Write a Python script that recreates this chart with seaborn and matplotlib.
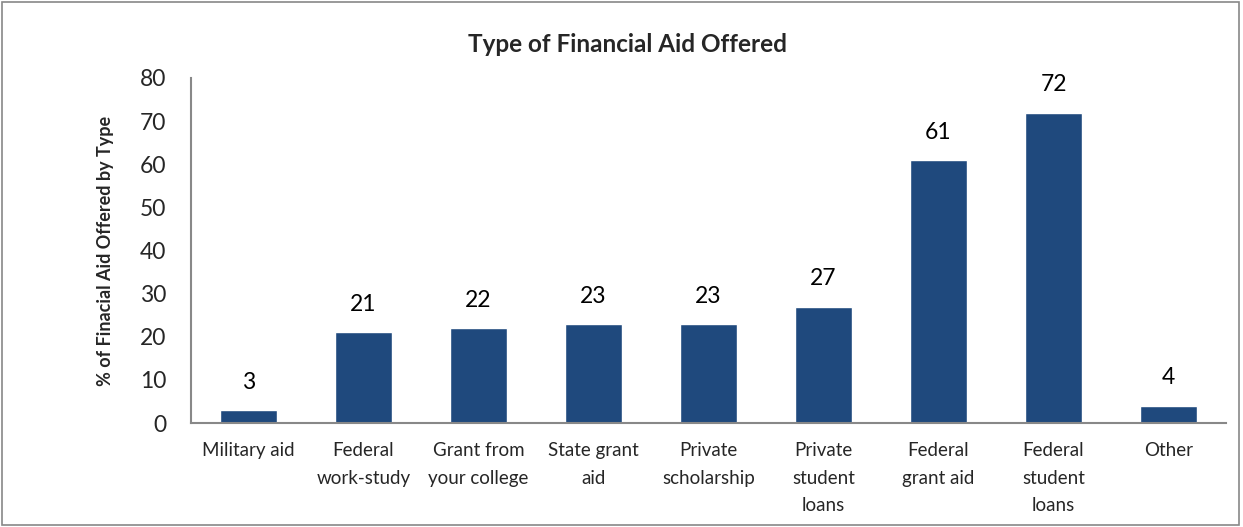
import matplotlib
matplotlib.use("Agg")
import matplotlib.pyplot as plt
import seaborn as sns
import pandas as pd
from matplotlib.patches import Rectangle

# data
categories = ["Military aid", "Federal\nwork-study", "Grant from\nyour college",
              "State grant\naid", "Private\nscholarship", "Private\nstudent\nloans",
              "Federal\ngrant aid", "Federal\nstudent\nloans", "Other"]
values = [3, 21, 22, 23, 23, 27, 61, 72, 4]
y_ticks = [0, 10, 20, 30, 40, 50, 60, 70, 80]

df = pd.DataFrame({"type": categories, "pct": values})

sns.set_style("white")
plt.rcParams["font.family"] = ["Lato", "DejaVu Sans"]

fig = plt.figure(figsize=(12.43, 5.27), dpi=100)
ax = fig.add_axes([191 / 1243, 1 - 423 / 527, (1226 - 191) / 1243, (423 - 78) / 527])

sns.barplot(data=df, x="type", y="pct", color="#1F497D", width=0.5,
            saturation=1, ax=ax)

# value labels above bars
for i, v in enumerate(values):
    ax.text(i, v + 4, str(v), ha="center", va="bottom", fontsize=16.5, color="black")

ax.set_ylim(0, 80)
ax.set_yticks(y_ticks)
ax.tick_params(axis="y", labelsize=16.5, length=6, width=1.2, color="#888888", pad=12)
ax.tick_params(axis="x", labelsize=13.5, length=0, pad=14)
for lbl in ax.get_xticklabels():
    lbl.set_linespacing(1.75)
    lbl.set_va("top")

for s in ["top", "right"]:
    ax.spines[s].set_visible(False)
for s in ["left", "bottom"]:
    ax.spines[s].set_color("#888888")
    ax.spines[s].set_linewidth(1.5)

ax.set_xlabel("")
ax.set_ylabel("% of Finacial Aid Offered by Type", fontsize=13, fontweight="bold",
              labelpad=18)

fig.text(0.505, 1 - 44 / 527, "Type of Financial Aid Offered", ha="center", va="center",
         fontsize=17.5, fontweight="bold")

# outer chart border
fig.patches.append(Rectangle((0.002, 0.003), 0.995, 0.993, transform=fig.transFigure,
                             fill=False, edgecolor="#888888", linewidth=1.2))

fig.savefig("out.png", dpi=100)
